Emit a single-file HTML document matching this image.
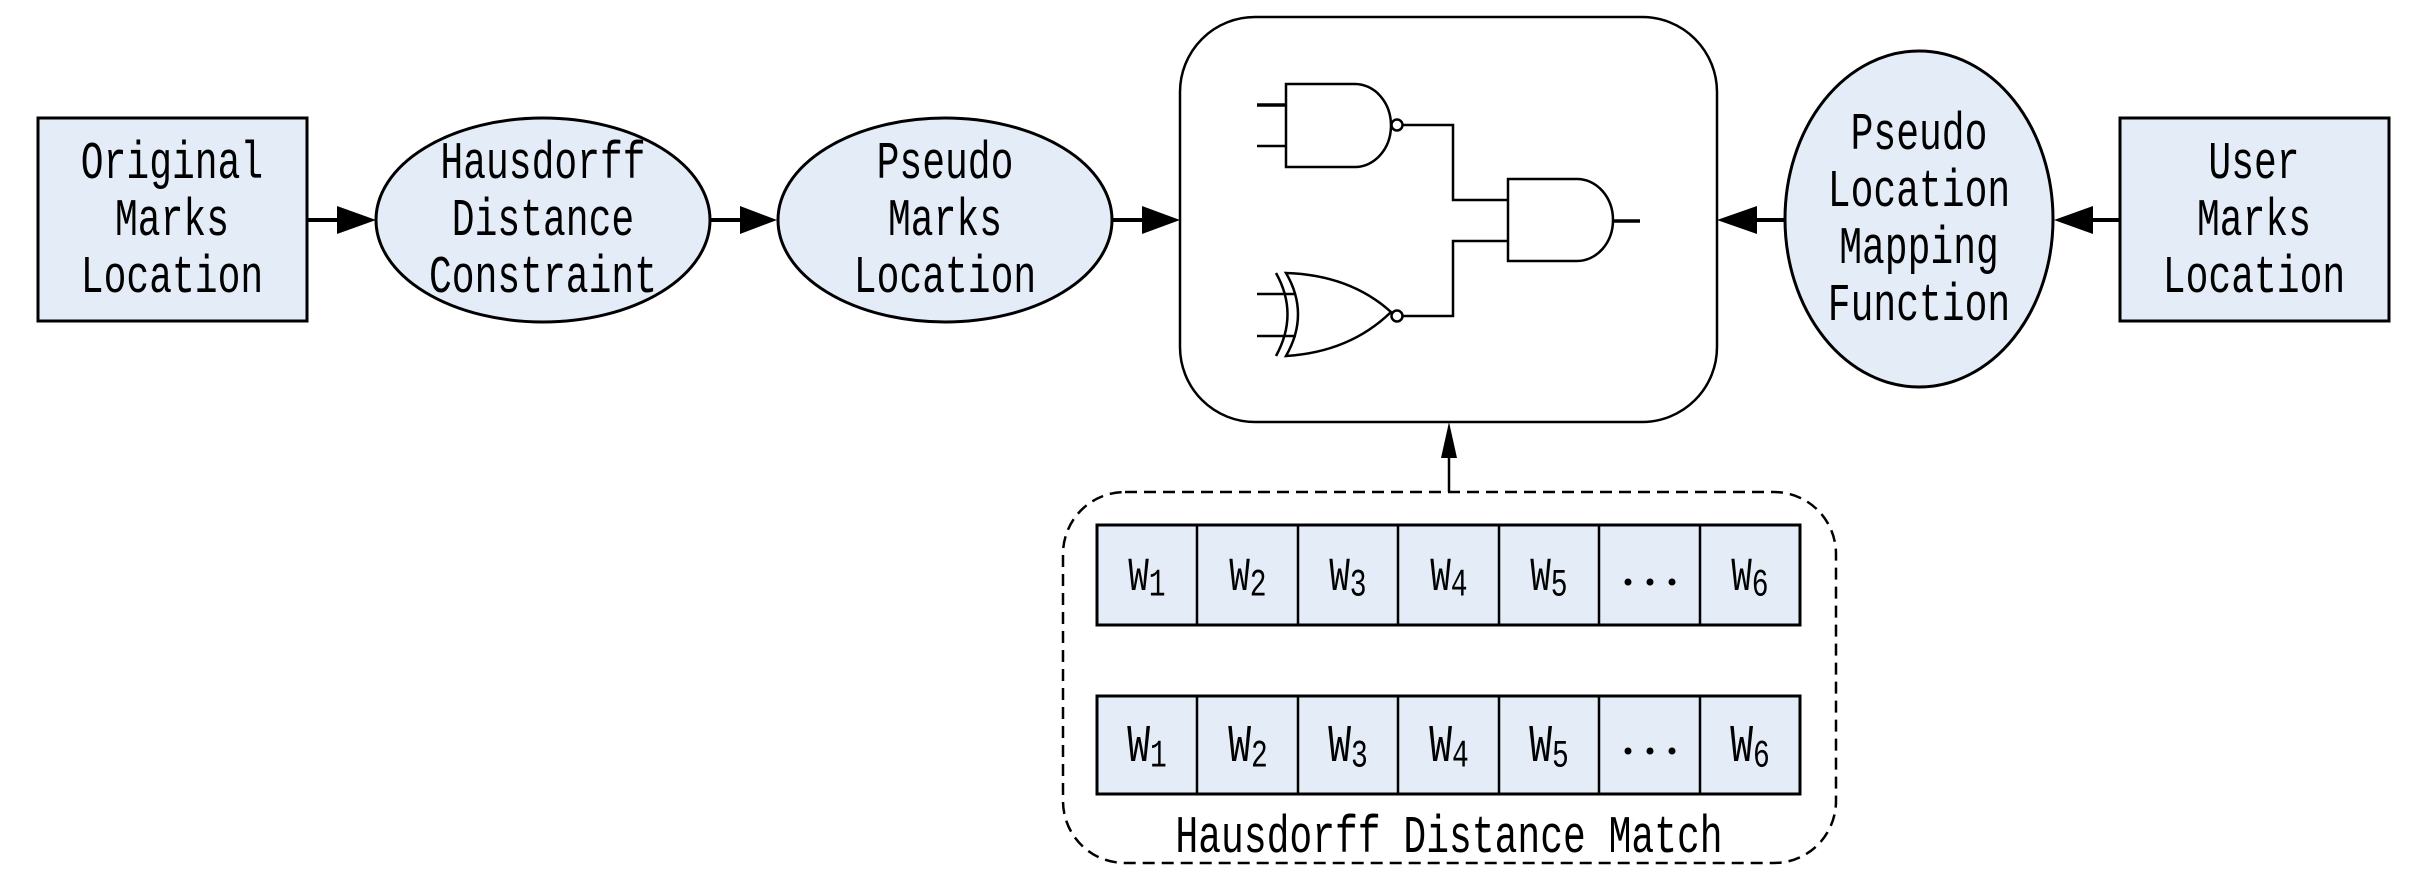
<!DOCTYPE html>
<html><head><meta charset="utf-8"><style>
html,body{margin:0;padding:0;background:#fff}
svg{display:block}
text{font-family:"Liberation Mono",monospace;fill:#000}
</style></head><body>
<svg width="2409" height="881" viewBox="0 0 2409 881" xmlns="http://www.w3.org/2000/svg">
<g stroke="#000" stroke-width="3" fill="#e4ecf7">
<rect x="38" y="118" width="269" height="203"/>
<ellipse cx="543" cy="220" rx="167" ry="102"/>
<ellipse cx="945" cy="220" rx="167" ry="102"/>
<ellipse cx="1919" cy="219" rx="134" ry="168"/>
<rect x="2120" y="118" width="269" height="203"/>
</g>
<rect x="1180" y="17" width="537" height="405" rx="75" ry="75" fill="#fff" stroke="#000" stroke-width="2.5"/>
<rect x="1063" y="492" width="773" height="371" rx="62" ry="62" fill="none" stroke="#000" stroke-width="2.5" stroke-dasharray="12,7"/>
<g stroke="#000" stroke-width="4">
<line x1="307" y1="220" x2="345" y2="220"/>
<line x1="710" y1="220" x2="745" y2="220"/>
<line x1="1112" y1="220" x2="1150" y2="220"/>
<line x1="2120" y1="220" x2="2085" y2="220"/>
<line x1="1785" y1="220" x2="1750" y2="220"/>
</g>
<line x1="1449" y1="492" x2="1449" y2="450" stroke="#000" stroke-width="2.5"/>
<g fill="#000">
<polygon points="337,206 376,220 337,234"/>
<polygon points="740,206 777,220 740,234"/>
<polygon points="1142,206 1180,220 1142,234"/>
<polygon points="2093,206 2054,220 2093,234"/>
<polygon points="1757,206 1717,220 1757,234"/>
<polygon points="1441,458 1449,422 1457,458"/>
</g>
<g font-size="38" text-anchor="middle">
<text transform="translate(172,178) scale(1,1.4)">Original</text><text transform="translate(172,235) scale(1,1.4)">Marks</text><text transform="translate(172,292) scale(1,1.4)">Location</text>
<text transform="translate(543,178) scale(1,1.4)">Hausdorff</text><text transform="translate(543,235) scale(1,1.4)">Distance</text><text transform="translate(543,292) scale(1,1.4)">Constraint</text>
<text transform="translate(945,178) scale(1,1.4)">Pseudo</text><text transform="translate(945,235) scale(1,1.4)">Marks</text><text transform="translate(945,292) scale(1,1.4)">Location</text>
<text transform="translate(1919,149) scale(1,1.4)">Pseudo</text><text transform="translate(1919,206) scale(1,1.4)">Location</text><text transform="translate(1919,263) scale(1,1.4)">Mapping</text><text transform="translate(1919,320) scale(1,1.4)">Function</text>
<text transform="translate(2254,178) scale(1,1.4)">User</text><text transform="translate(2254,235) scale(1,1.4)">Marks</text><text transform="translate(2254,292) scale(1,1.4)">Location</text>
<text transform="translate(1449,852) scale(1,1.4)">Hausdorff Distance Match</text>
</g>
<g stroke="#000" stroke-width="2.5" fill="none">
<path d="M1286,84 H1355 A36,41.5 0 0 1 1355,167 H1286 Z"/>
<circle cx="1397" cy="125" r="5.5" fill="#fff"/>
<line x1="1257" y1="105" x2="1286" y2="105" stroke-width="3.5"/>
<line x1="1257" y1="146" x2="1286" y2="146"/>
<polyline points="1403,125 1453,125 1453,200 1508,200"/>
<path d="M1508,179 H1577 A36,41 0 0 1 1577,261 H1508 Z"/>
<line x1="1612" y1="221" x2="1640" y2="221" stroke-width="3.5"/>
<path d="M1286,273 Q1350,275 1391,312 Q1350,352 1286,356 Q1310,314 1286,273 Z"/>
<path d="M1276,273 Q1299,314 1276,356"/>
<circle cx="1397" cy="316" r="5.5" fill="#fff"/>
<polyline points="1403,316 1453,316 1453,241 1508,241"/>
<line x1="1257" y1="294" x2="1296" y2="294"/>
<line x1="1257" y1="336" x2="1296" y2="336"/>
</g>
<g stroke="#000" stroke-width="3" fill="#e4ecf7">
<rect x="1097" y="525" width="703" height="100"/>
<rect x="1097" y="696" width="703" height="98"/>
</g>
<g stroke="#000" stroke-width="2.5">
<line x1="1197" y1="525" x2="1197" y2="625"/><line x1="1298" y1="525" x2="1298" y2="625"/><line x1="1398" y1="525" x2="1398" y2="625"/><line x1="1499" y1="525" x2="1499" y2="625"/><line x1="1599" y1="525" x2="1599" y2="625"/><line x1="1700" y1="525" x2="1700" y2="625"/>
<line x1="1197" y1="696" x2="1197" y2="794"/><line x1="1298" y1="696" x2="1298" y2="794"/><line x1="1398" y1="696" x2="1398" y2="794"/><line x1="1499" y1="696" x2="1499" y2="794"/><line x1="1599" y1="696" x2="1599" y2="794"/><line x1="1700" y1="696" x2="1700" y2="794"/>
</g>
<g fill="#000">
<circle cx="1628" cy="582" r="3.5"/><circle cx="1650" cy="582" r="3.5"/><circle cx="1672" cy="582" r="3.5"/>
<circle cx="1628" cy="751" r="3.5"/><circle cx="1650" cy="751" r="3.5"/><circle cx="1672" cy="751" r="3.5"/>
</g>
<g font-size="34" text-anchor="middle">
<text transform="translate(1147,590) scale(1,1.4)">W<tspan font-size="28" dy="4">1</tspan></text>
<text transform="translate(1248,590) scale(1,1.4)">W<tspan font-size="28" dy="4">2</tspan></text>
<text transform="translate(1348,590) scale(1,1.4)">W<tspan font-size="28" dy="4">3</tspan></text>
<text transform="translate(1449,590) scale(1,1.4)">W<tspan font-size="28" dy="4">4</tspan></text>
<text transform="translate(1549,590) scale(1,1.4)">W<tspan font-size="28" dy="4">5</tspan></text>
<text transform="translate(1750,590) scale(1,1.4)">W<tspan font-size="28" dy="4">6</tspan></text>
<g font-size="38">
<text transform="translate(1147,761) scale(1,1.4)">W<tspan font-size="28" dy="4">1</tspan></text>
<text transform="translate(1248,761) scale(1,1.4)">W<tspan font-size="28" dy="4">2</tspan></text>
<text transform="translate(1348,761) scale(1,1.4)">W<tspan font-size="28" dy="4">3</tspan></text>
<text transform="translate(1449,761) scale(1,1.4)">W<tspan font-size="28" dy="4">4</tspan></text>
<text transform="translate(1549,761) scale(1,1.4)">W<tspan font-size="28" dy="4">5</tspan></text>
<text transform="translate(1750,761) scale(1,1.4)">W<tspan font-size="28" dy="4">6</tspan></text>
</g>
</g>
</svg>
</body></html>
